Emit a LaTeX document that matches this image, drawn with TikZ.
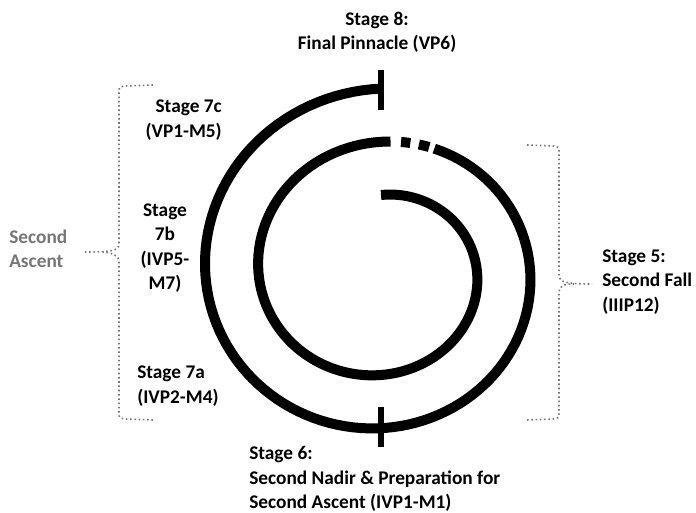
\documentclass[tikz,border=0pt]{standalone}
\usepackage{fontspec}
\setmainfont{Carlito}
\definecolor{bracegray}{RGB}{118,118,118}
\tikzset{declare function={sx(\t)=381+(82.7+\t*0.1478)*sin(\t); sy(\t)=271.7-(76.7+\t*0.1478)*cos(\t);}}
\begin{document}
\begin{tikzpicture}[x=0.75pt, y=-0.75pt,
  every node/.style={font=\bfseries\fontsize{14.5}{18.3}\selectfont, inner sep=0pt},
  spiral/.style={line width=7.5pt},
  tick/.style={line width=4pt},
  brace/.style={bracegray, dotted, line width=1.2pt}]
  \useasboundingbox (0,0) rectangle (696,513);
  % the spiral, from the centre outwards
  \draw[spiral] plot[domain=0:364, samples=120] ({sx(\x)},{sy(\x)});
  \draw[spiral] plot[domain=368.4:372.3, samples=5] ({sx(\x)},{sy(\x)});
  \draw[spiral] plot[domain=375.9:380.3, samples=5] ({sx(\x)},{sy(\x)});
  \draw[spiral] plot[domain=382.5:720, samples=120] ({sx(\x)},{sy(\x)});
  \coordinate (nadir) at ({sx(540)},{sy(540)});
  \coordinate (pinnacle) at ({sx(720)},{sy(720)});
  \draw[tick] ([yshift=-14pt]nadir) -- ([yshift=16pt]nadir);
  \draw[tick] ([yshift=-16pt]pinnacle) -- ([yshift=14pt]pinnacle);
  % labels
  \node[align=center] (stage8) at (377,32) {Stage 8:\\Final Pinnacle (VP6)};
  \node[align=right, anchor=east] (stage7c) at (222,120) {Stage 7c\\(VP1-M5)};
  \node[align=center] (stage7b) at (165,248) {Stage\\7b\\(IVP5-\\M7)};
  \node[align=left, anchor=west] (stage7a) at (137,386) {Stage 7a\\(IVP2-M4)};
  \node[align=left, anchor=west] (stage6) at (249,479) {Stage 6:\\Second Nadir \& Preparation for\\Second Ascent (IVP1-M1)};
  \node[align=left, anchor=west] (stage5) at (602,282) {Stage 5:\\Second Fall\\(IIIP12)};
  \node[align=left, anchor=west, text=bracegray] (ascent) at (9,249) {Second\\Ascent};
  % braces
  \coordinate (lbtop) at (153,85);
  \coordinate (lbbot) at (153,420);
  \coordinate (lbtip) at (85,252);
  \draw[brace] (lbtop) -- (125,86) .. controls (119,87) .. (119,93) -- (119,244)
    .. controls (119,251) and (110,252) .. (lbtip);
  \draw[brace] (lbbot) -- (125,419) .. controls (119,418) .. (119,412) -- (119,262)
    .. controls (119,255) and (112,253) .. (103,252);
  \coordinate (rbtop) at (527,145);
  \coordinate (rbbot) at (527,420);
  \coordinate (rbtip) at (592,284);
  \draw[brace] (rbtop) -- (553,146) .. controls (559,147) .. (559,153) -- (559,276)
    .. controls (559,282) and (566,284) .. (rbtip);
  \draw[brace] (rbbot) -- (553,419) .. controls (559,418) .. (559,412) -- (559,292)
    .. controls (559,286) and (564,284) .. (574,284);
\end{tikzpicture}
\end{document}
